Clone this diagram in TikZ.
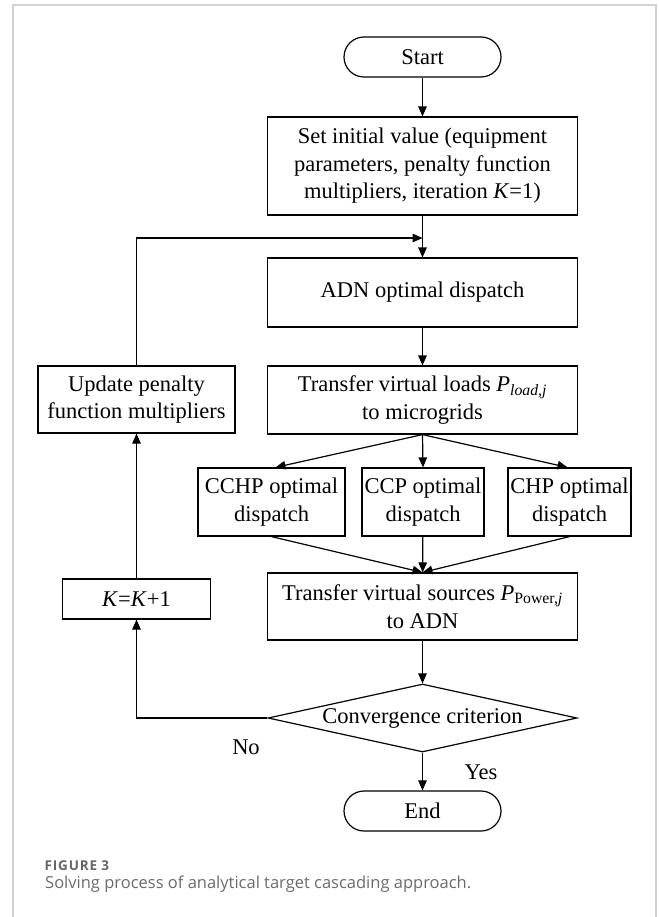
\documentclass[tikz,border=0pt]{standalone}
\usepackage{fontspec}
\setmainfont{Liberation Serif}
\newfontfamily\capfont{Open Sans}
\newfontfamily\figfont{Open Sans}[LetterSpace=6]
\usetikzlibrary{shapes.geometric,arrows.meta}
\begin{document}
\begin{tikzpicture}[x=1pt,y=-1pt,
  every node/.style={font=\fontsize{22.5}{27.5}\selectfont, inner sep=0pt},
  box/.style={draw, line width=1.2pt, align=center},
  term/.style={draw, line width=1.2pt, rounded corners=20pt, minimum width=157pt, minimum height=40pt},
  arr/.style={line width=1.2pt, -{Triangle[length=10pt,width=8.5pt]}},
  ln/.style={line width=1.2pt}
]
\useasboundingbox (0,0) rectangle (658,917);
\draw[color=gray!35, line width=1.5pt] (13,917) -- (13,5) -- (656,5) -- (656,917);

\node[term] (start) at (422.5,57) {Start};
\node[box, minimum width=310pt, minimum height=98pt] (init) at (422.5,166) {Set initial value (equipment\\parameters, penalty function\\multipliers, iteration \textit{K}=1)};
\coordinate (join) at (422.5,238);
\node[box, minimum width=310pt, minimum height=69pt] (adn) at (422.5,292.5) {ADN optimal dispatch};
\node[box, minimum width=310pt, minimum height=68pt] (tl) at (422.5,400) {Transfer virtual loads \textit{P}\textsubscript{\textit{load,j}}\\to microgrids};
\node[box, minimum width=197pt, minimum height=67pt] (upd) at (136.5,399.5) {Update penalty\\function multipliers};
\node[box, minimum width=147pt, minimum height=68pt] (cchp) at (271.5,502) {CCHP optimal\\dispatch};
\node[box, minimum width=122pt, minimum height=68pt] (ccp) at (423,502) {CCP optimal\\dispatch};
\node[box, minimum width=123pt, minimum height=68pt] (chp) at (569.5,502) {CHP optimal\\dispatch};
\node[box, minimum width=310pt, minimum height=67pt] (src) at (422.5,606.5) {Transfer virtual sources \textit{P}\textsubscript{Power,\textit{j}}\\to ADN};
\node[box, minimum width=148pt, minimum height=40pt] (kk) at (136.5,599) {\textit{K}=\textit{K}+1};
\node[draw, line width=1.2pt, diamond, aspect=4.5, minimum width=309pt, minimum height=68pt] (conv) at (422.5,718) {Convergence criterion};
\node[term] (stop) at (422.5,811) {End};
\node (no) at (246,747) {No};
\node (yes) at (481,772) {Yes};

\draw[arr] (start) -- (init);
\draw[ln] (init) -- (join);
\draw[arr] (join) -- (adn);
\draw[arr] (upd.north) |- (join);
\draw[arr] (adn) -- (tl);
\draw[arr] (tl.south) -- ([xshift=4pt]cchp.north);
\draw[arr] (tl.south) -- (ccp.north);
\draw[arr] (tl.south) -- ([xshift=-2pt]chp.north);
\draw[arr] (cchp.south) -- (src.north);
\draw[arr] (ccp) -- (src);
\draw[arr] (chp.south) -- (src.north);
\draw[arr] (src) -- (conv);
\draw[arr] (conv.west) -| (kk.south);
\draw[arr] (kk) -- (upd);
\draw[arr] (conv) -- (stop);

\node[anchor=west, font=\figfont\bfseries\fontsize{13.5}{16}\selectfont, text=black!60] (fig) at (44.5,866) {FIGURE 3};
\node[anchor=west, font=\capfont\fontsize{16.5}{20}\selectfont, text=black!58] (cap) at (45,884) {Solving process of analytical target cascading approach.};
\end{tikzpicture}
\end{document}
